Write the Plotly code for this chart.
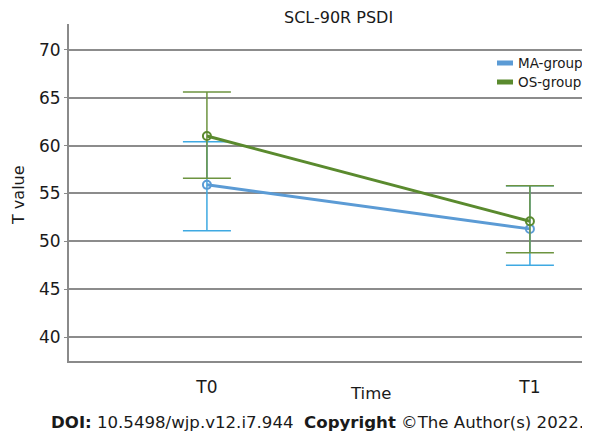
import plotly.graph_objects as go

categories = ["T0", "T1"]
ma_mean = [55.9, 51.3]
ma_upper = [60.4, 55.8]
ma_lower = [51.1, 47.5]
os_mean = [61.0, 52.1]
os_upper = [65.6, 55.8]
os_lower = [56.6, 48.8]
series_names = ["MA-group", "OS-group"]
y_ticks = [40, 45, 50, 55, 60, 65, 70]

FONT = "DejaVu Sans"
MA_LINE = "#5b9bd5"
MA_ERR = "#3fa9e2"
OS_LINE = "#5a8a2e"
OS_ERR = "#6d9440"
TXT = "#1a1a1a"

# page has an 8px body margin; layout below is in reference page pixels
PL, PR, PT, PB = 69, 590, 24, 361
OFF = 8
FIG_W, FIG_H = 590 - OFF, 436 - OFF


def px(x):
    return (x - PL) / (PR - PL)


def py(y):
    return (PB - y) / (PB - PT)


fig = go.Figure()


def add_series(mean, upper, lower, line_c, err_c, name):
    fig.add_trace(go.Scatter(
        x=categories, y=mean, mode="lines+markers", name=name,
        showlegend=False,
        line=dict(color=line_c, width=3),
        marker=dict(symbol="circle-open", size=8, color=line_c, line=dict(width=2)),
        error_y=dict(type="data", symmetric=False,
                     array=[u - m for u, m in zip(upper, mean)],
                     arrayminus=[m - l for m, l in zip(mean, lower)],
                     color=err_c, thickness=1.5, width=24),
    ))


add_series(ma_mean, ma_upper, ma_lower, MA_LINE, MA_ERR, series_names[0])
add_series(os_mean, os_upper, os_lower, OS_LINE, OS_ERR, series_names[1])

# legend (manual)
for i, (nm, c) in enumerate(zip(series_names, [MA_LINE, OS_LINE])):
    yy = 63 + 19 * i
    fig.add_shape(type="line", xref="paper", yref="paper",
                  x0=px(497), x1=px(513), y0=py(yy), y1=py(yy),
                  line=dict(color=c, width=5))
    fig.add_annotation(text=nm, xref="paper", yref="paper",
                       x=px(516), y=py(yy), xanchor="left", yanchor="middle",
                       showarrow=False, font=dict(family=FONT, size=13.5, color=TXT))

fig.add_annotation(text="SCL-90R PSDI", xref="paper", yref="paper",
                   x=px(338), y=py(17), xanchor="center", yanchor="middle",
                   showarrow=False, font=dict(family=FONT, size=16, color=TXT))
fig.add_annotation(text="Time", xref="paper", yref="paper",
                   x=px(370), y=py(393), xanchor="center", yanchor="middle",
                   showarrow=False, font=dict(family=FONT, size=16.5, color=TXT))
fig.add_annotation(text="T value", xref="paper", yref="paper",
                   x=px(18), y=py(195), xanchor="center", yanchor="middle",
                   textangle=-90, showarrow=False, font=dict(family=FONT, size=16, color=TXT))
fig.add_annotation(text="<b>DOI:</b> 10.5498/wjp.v12.i7.944  <b>Copyright</b> ©The Author(s) 2022.",
                   xref="paper", yref="paper",
                   x=px(586), y=py(422), xanchor="right", yanchor="middle",
                   showarrow=False, font=dict(family=FONT, size=16.6, color=TXT))

fig.update_layout(
    width=FIG_W, height=FIG_H,
    margin=dict(l=PL - OFF, r=FIG_W - (PR - OFF), t=PT - OFF, b=FIG_H - (PB - OFF)),
    paper_bgcolor="white", plot_bgcolor="white",
    font=dict(family=FONT, color=TXT),
    showlegend=False,
    xaxis=dict(type="category", range=[-0.427, 1.186], showgrid=False,
               showline=True, linecolor="#8a8a8a", linewidth=2,
               ticks="", tickfont=dict(size=17), ticklabelstandoff=10),
    yaxis=dict(range=[37.5, 72.7], tickvals=y_ticks, showgrid=True,
               gridcolor="#8c8c8c", gridwidth=1.5,
               showline=True, linecolor="#8a8a8a", linewidth=2,
               ticks="outside", ticklen=3, tickcolor="#8a8a8a",
               tickfont=dict(size=17), zeroline=False),
)

fig.write_html("out.html")
